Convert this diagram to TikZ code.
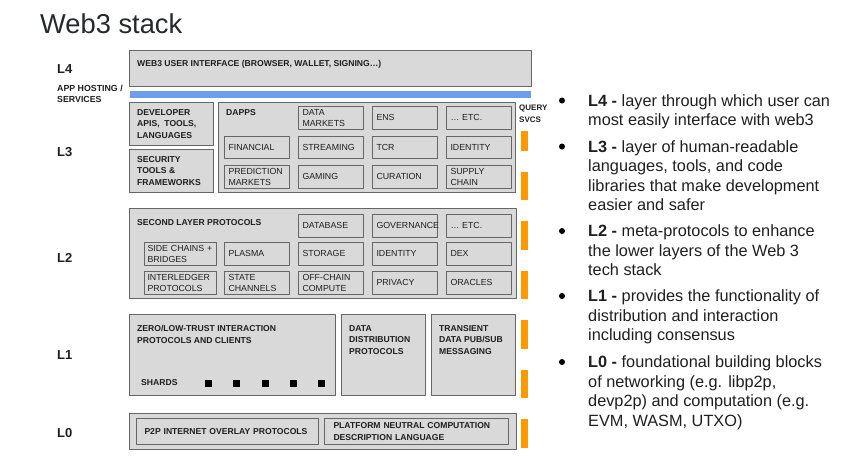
\documentclass[tikz,border=0pt]{standalone}
\usepackage{fontspec}
\setmainfont{Liberation Sans}
\definecolor{boxfill}{HTML}{D9D9D9}
\definecolor{boxline}{HTML}{666666}
\definecolor{barblue}{HTML}{6D9EEB}
\definecolor{barorange}{HTML}{FF9900}
\definecolor{inkdark}{HTML}{1F1F1F}
\definecolor{titleink}{HTML}{26282B}

\begin{document}
\begin{tikzpicture}[x=1pt,y=-1pt,line join=round,
	layerbox/.style={draw=boxline,fill=boxfill,line width=1.1pt,anchor=north west,inner sep=0pt},
	cellbox/.style={draw=boxline,line width=1pt,anchor=north west,inner xsep=4pt,inner ysep=0pt,align=left,
		text width=57pt,minimum height=22.5pt,font=\fontsize{8.8}{10.8}\selectfont,text=inkdark},
	headtext/.style={anchor=north west,inner sep=0pt,align=left,font=\fontsize{8.6}{11.7}\selectfont\bfseries,text=inkdark},
	layerlabel/.style={anchor=west,inner sep=0pt,font=\fontsize{13}{15}\selectfont\bfseries,text=inkdark},
	querybar/.style={fill=barorange,anchor=north west,inner sep=0pt,minimum width=7pt},
	shard/.style={fill=black,inner sep=0pt,minimum size=7pt},
	dot/.style={circle,fill=black,inner sep=0pt,minimum size=6pt},
	bullettext/.style={anchor=north west,inner sep=0pt,align=left,font=\fontsize{16.3}{19.5}\selectfont,text=inkdark}]
	\useasboundingbox (0,0) rectangle (847,458);
	% title
	\node[anchor=base west,inner sep=0pt,font=\fontsize{27.3}{30}\selectfont,text=titleink] (title) at (40,33) {Web3 stack};
	% layer names
	\node[layerlabel] (nameL4) at (57,69) {L4};
	\node[headtext,font=\fontsize{8.8}{11}\selectfont\bfseries] (hosting) at (57,85) {APP HOSTING /\\SERVICES};
	\node[layerlabel] (nameL3) at (57,152) {L3};
	\node[layerlabel] (nameL2) at (57,258) {L2};
	\node[layerlabel] (nameL1) at (57,355) {L1};
	\node[layerlabel] (nameL0) at (57,433) {L0};
	% L4
	\node[layerbox,minimum width=402pt,minimum height=36pt] (uibox) at (129,50) {};
	\node[headtext] (uitext) at (137,60) {WEB3 USER INTERFACE (BROWSER, WALLET, SIGNING…)};
	\node[fill=barblue,anchor=north west,inner sep=0pt,minimum width=401pt,minimum height=7pt] (uibar) at (130,91) {};
	% L3
	\node[layerbox,minimum width=84pt,minimum height=43pt] (devbox) at (129,102) {};
	\node[headtext] (devtext) at (137,109) {DEVELOPER\\APIS,~ TOOLS,\\LANGUAGES};
	\node[layerbox,minimum width=84pt,minimum height=43pt] (secbox) at (129,149) {};
	\node[headtext] (sectext) at (137,156) {SECURITY\\TOOLS \&\\FRAMEWORKS};
	\node[layerbox,minimum width=297pt,minimum height=90pt] (dappbox) at (218,102) {};
	\node[headtext] (dapptext) at (226,109) {DAPPS};
	\node[cellbox] (datamarkets) at (298,106) {DATA\\MARKETS};
	\node[cellbox] (ens) at (372,106) {ENS};
	\node[cellbox] (dappetc) at (446,106) {… ETC.};
	\node[cellbox] (financial) at (224,135.5) {FINANCIAL};
	\node[cellbox] (streaming) at (298,135.5) {STREAMING};
	\node[cellbox] (tcr) at (372,135.5) {TCR};
	\node[cellbox] (dappid) at (446,135.5) {IDENTITY};
	\node[cellbox] (prediction) at (224,165) {PREDICTION\\MARKETS};
	\node[cellbox] (gaming) at (298,165) {GAMING};
	\node[cellbox] (curation) at (372,165) {CURATION};
	\node[cellbox] (supply) at (446,165) {SUPPLY\\CHAIN};
	% L2
	\node[layerbox,minimum width=387pt,minimum height=90pt] (l2box) at (129,208) {};
	\node[headtext] (l2text) at (137,219) {SECOND LAYER PROTOCOLS};
	\node[cellbox] (database) at (298,214) {DATABASE};
	\node[cellbox] (governance) at (372,214) {GOVERNANCE};
	\node[cellbox] (l2etc) at (446,214) {… ETC.};
	\node[cellbox,inner xsep=3pt,text width=66pt] (sidechains) at (144,242) {SIDE CHAINS +\\BRIDGES};
	\node[cellbox] (plasma) at (224,242) {PLASMA};
	\node[cellbox] (storage) at (298,242) {STORAGE};
	\node[cellbox] (l2id) at (372,242) {IDENTITY};
	\node[cellbox] (dex) at (446,242) {DEX};
	\node[cellbox,inner xsep=3pt,text width=66pt] (interledger) at (144,271) {INTERLEDGER\\PROTOCOLS};
	\node[cellbox] (statech) at (224,271) {STATE\\CHANNELS};
	\node[cellbox] (offchain) at (298,271) {OFF-CHAIN\\COMPUTE};
	\node[cellbox] (privacy) at (372,271) {PRIVACY};
	\node[cellbox] (oracles) at (446,271) {ORACLES};
	% L1
	\node[layerbox,minimum width=206pt,minimum height=81pt] (trustbox) at (129,314) {};
	\node[headtext] (trusttext) at (137,325) {ZERO/LOW-TRUST INTERACTION\\PROTOCOLS AND CLIENTS};
	\node[headtext,anchor=west] (shardtext) at (141,383) {SHARDS};
	\foreach \i/\sx in {1/208,2/236,3/265,4/293,5/321}
		\node[shard] (shard\i) at (\sx,383) {};
	\node[layerbox,minimum width=84pt,minimum height=81pt] (distbox) at (341,314) {};
	\node[headtext] (disttext) at (349,325) {DATA\\DISTRIBUTION\\PROTOCOLS};
	\node[layerbox,minimum width=84pt,minimum height=81pt] (pubsubbox) at (431,314) {};
	\node[headtext] (pubsubtext) at (439,325) {TRANSIENT\\DATA PUB/SUB\\MESSAGING};
	% L0
	\node[layerbox,minimum width=387pt,minimum height=36pt] (l0box) at (129,413) {};
	\node[cellbox,inner xsep=8pt,text width=166pt,minimum height=26pt,font=\fontsize{8.6}{12.5}\selectfont\bfseries] (p2p) at (136,418) {P2P INTERNET OVERLAY PROTOCOLS};
	\node[cellbox,inner xsep=9pt,text width=166pt,minimum height=26pt,font=\fontsize{8.6}{12.5}\selectfont\bfseries] (pncdl) at (324,418) {PLATFORM NEUTRAL COMPUTATION\\DESCRIPTION LANGUAGE};
	% query services
	\node[headtext,font=\fontsize{8}{11.5}\selectfont\bfseries] (query) at (519,105) {QUERY\\SVCS};
	\foreach \i/\top/\h in {1/131/20,2/172/28,3/221/29,4/271/28,5/320/29,6/370/28,7/419/29}
		\node[querybar,minimum height=\h pt] (qbar\i) at (521,\top) {};
	% notes
	\node[dot] (dot4) at (562,100.5) {};
	\node[bullettext] (note4) at (588,94.3) {\textbf{L4 -} layer through which user can\\most easily interface with web3};
	\node[dot] (dot3) at (562,146.5) {};
	\node[bullettext] (note3) at (588,140.3) {\textbf{L3 -} layer of human-readable\\languages, tools, and code\\libraries that make development\\easier and safer};
	\node[dot] (dot2) at (562,231) {};
	\node[bullettext] (note2) at (588,224.8) {\textbf{L2 -} meta-protocols to enhance\\the lower layers of the Web 3\\tech stack};
	\node[dot] (dot1) at (562,296) {};
	\node[bullettext] (note1) at (588,289.8) {\textbf{L1 -} provides the functionality of\\distribution and interaction\\including consensus};
	\node[dot] (dot0) at (562,362) {};
	\node[bullettext] (note0) at (588,355.8) {\textbf{L0 -} foundational building blocks\\of networking (e.g. libp2p,\\devp2p) and computation (e.g.\\EVM, WASM, UTXO)};
\end{tikzpicture}
\end{document}
